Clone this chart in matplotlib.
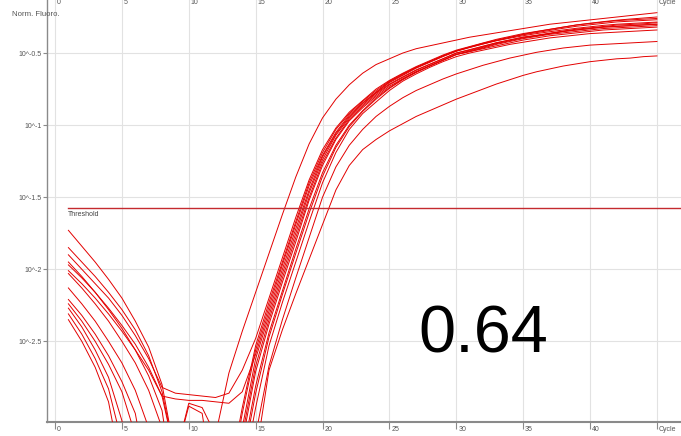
import numpy as np
import matplotlib
matplotlib.use("Agg")
import matplotlib.pyplot as plt
from matplotlib import transforms
from matplotlib.ticker import NullLocator

plt.rcParams["font.family"] = ["Liberation Sans", "DejaVu Sans"]

# Cycle numbers shared by every well
cycles = np.arange(1, 46)

# log10 of normalised fluorescence per cycle, one list per well (-4.0 = below the plotted range)
well_01 = [-1.73, -1.84, -1.95, -2.07, -2.20, -2.36, -2.54, -2.80, -3.30, -2.93, -2.96, -3.15, -2.72, -2.43, -2.16,
           -1.89, -1.62, -1.36, -1.13, -0.95, -0.82, -0.72, -0.64, -0.58, -0.54, -0.50, -0.47, -0.45, -0.43, -0.41,
           -0.39, -0.375, -0.36, -0.345, -0.33, -0.315, -0.30, -0.29, -0.28, -0.27, -0.26, -0.25, -0.24, -0.23, -0.22]
well_02 = [-1.90, -2.00, -2.10, -2.20, -2.32, -2.46, -2.62, -2.82, -2.86, -2.87, -2.88, -2.89, -2.86, -2.70, -2.48,
           -2.20, -1.92, -1.64, -1.38, -1.17, -1.02, -0.91, -0.83, -0.75, -0.69, -0.64, -0.594, -0.554, -0.514, -0.48,
           -0.455, -0.43, -0.405, -0.385, -0.365, -0.35, -0.335, -0.32, -0.305, -0.295, -0.285, -0.275, -0.27, -0.265, -0.26]
well_03 = [-2.01, -2.10, -2.20, -2.31, -2.43, -2.56, -2.70, -2.88, -2.90, -2.91, -2.91, -2.92, -2.93, -2.85, -2.59,
           -2.29, -2.00, -1.72, -1.45, -1.22, -1.06, -0.94, -0.85, -0.775, -0.705, -0.655, -0.605, -0.565, -0.525, -0.488,
           -0.462, -0.437, -0.413, -0.393, -0.373, -0.358, -0.343, -0.328, -0.314, -0.304, -0.294, -0.284, -0.279, -0.274, -0.269]
well_04 = [-1.85, -1.95, -2.05, -2.16, -2.28, -2.42, -2.60, -2.85, -3.30, -2.95, -3.00, -3.60, -3.70, -3.35, -2.86,
           -2.47, -2.175, -1.89, -1.61, -1.355, -1.155, -1.01, -0.905, -0.82, -0.745, -0.685, -0.635, -0.59, -0.55, -0.51,
           -0.485, -0.46, -0.435, -0.415, -0.395, -0.38, -0.365, -0.35, -0.34, -0.33, -0.32, -0.315, -0.31, -0.305, -0.30]
well_05 = [-1.95, -2.05, -2.16, -2.28, -2.41, -2.56, -2.74, -2.98, -3.60, -4.0, -4.0, -4.0, -3.45, -2.96, -2.53,
           -2.23, -1.95, -1.67, -1.40, -1.19, -1.03, -0.92, -0.835, -0.76, -0.695, -0.645, -0.60, -0.56, -0.52, -0.485,
           -0.458, -0.432, -0.41, -0.39, -0.37, -0.352, -0.336, -0.32, -0.305, -0.293, -0.282, -0.272, -0.264, -0.257, -0.25]
well_06 = [-1.97, -2.06, -2.16, -2.27, -2.39, -2.52, -2.68, -2.88, -3.30, -4.0, -4.0, -4.0, -3.50, -3.00, -2.56,
           -2.26, -1.97, -1.69, -1.42, -1.21, -1.05, -0.93, -0.845, -0.77, -0.70, -0.65, -0.60, -0.56, -0.52, -0.485,
           -0.46, -0.437, -0.415, -0.397, -0.38, -0.365, -0.352, -0.34, -0.328, -0.318, -0.308, -0.30, -0.295, -0.29, -0.285]
well_07 = [-2.03, -2.13, -2.24, -2.36, -2.50, -2.65, -2.84, -3.10, -4.0, -4.0, -4.0, -4.0, -3.60, -3.10, -2.62,
           -2.32, -2.03, -1.75, -1.47, -1.24, -1.07, -0.95, -0.86, -0.78, -0.715, -0.665, -0.617, -0.578, -0.54, -0.50,
           -0.476, -0.452, -0.428, -0.409, -0.39, -0.376, -0.362, -0.348, -0.334, -0.325, -0.316, -0.306, -0.302, -0.297, -0.29]
well_08 = [-2.13, -2.24, -2.36, -2.50, -2.65, -2.84, -3.10, -4.0, -4.0, -4.0, -4.0, -4.0, -3.65, -3.15, -2.67,
           -2.35, -2.06, -1.78, -1.50, -1.26, -1.09, -0.96, -0.87, -0.79, -0.72, -0.67, -0.62, -0.58, -0.54, -0.50,
           -0.48, -0.455, -0.43, -0.41, -0.39, -0.38, -0.365, -0.35, -0.34, -0.33, -0.32, -0.315, -0.31, -0.305, -0.30]
well_09 = [-2.21, -2.32, -2.45, -2.60, -2.78, -3.00, -3.50, -4.0, -4.0, -4.0, -4.0, -4.0, -3.70, -3.20, -2.71,
           -2.38, -2.09, -1.81, -1.52, -1.28, -1.10, -0.97, -0.88, -0.80, -0.73, -0.68, -0.63, -0.59, -0.55, -0.51,
           -0.49, -0.465, -0.44, -0.42, -0.40, -0.385, -0.37, -0.36, -0.35, -0.34, -0.33, -0.325, -0.32, -0.315, -0.31]
well_10 = [-2.24, -2.36, -2.50, -2.66, -2.85, -3.15, -4.0, -4.0, -4.0, -4.0, -4.0, -4.0, -4.0, -3.30, -2.81,
           -2.44, -2.15, -1.86, -1.58, -1.33, -1.14, -1.00, -0.90, -0.81, -0.74, -0.68, -0.63, -0.59, -0.55, -0.51,
           -0.49, -0.47, -0.45, -0.43, -0.41, -0.395, -0.38, -0.37, -0.36, -0.35, -0.34, -0.335, -0.33, -0.325, -0.32]
well_11 = [-2.27, -2.40, -2.56, -2.75, -3.05, -3.60, -4.0, -4.0, -4.0, -4.0, -4.0, -4.0, -4.0, -3.45, -2.96,
           -2.53, -2.23, -1.95, -1.67, -1.40, -1.19, -1.03, -0.92, -0.84, -0.76, -0.695, -0.645, -0.60, -0.56, -0.525,
           -0.50, -0.48, -0.46, -0.44, -0.425, -0.41, -0.395, -0.385, -0.375, -0.365, -0.36, -0.355, -0.35, -0.345, -0.34]
well_12 = [-2.31, -2.45, -2.62, -2.83, -3.20, -4.0, -4.0, -4.0, -4.0, -4.0, -4.0, -4.0, -4.0, -4.0, -3.15,
           -2.67, -2.35, -2.06, -1.78, -1.50, -1.29, -1.14, -1.03, -0.94, -0.87, -0.81, -0.76, -0.72, -0.68, -0.645,
           -0.615, -0.585, -0.56, -0.535, -0.515, -0.495, -0.48, -0.465, -0.455, -0.445, -0.44, -0.435, -0.43, -0.425, -0.42]
well_13 = [-2.35, -2.50, -2.68, -2.92, -3.40, -4.0, -4.0, -4.0, -4.0, -4.0, -4.0, -4.0, -4.0, -4.0, -3.30,
           -2.70, -2.42, -2.17, -1.93, -1.69, -1.45, -1.28, -1.17, -1.10, -1.04, -0.99, -0.94, -0.90, -0.86, -0.82,
           -0.785, -0.75, -0.715, -0.685, -0.655, -0.63, -0.61, -0.59, -0.575, -0.56, -0.55, -0.54, -0.535, -0.525, -0.52]

wells = [well_01, well_02, well_03, well_04, well_05, well_06, well_07,
         well_08, well_09, well_10, well_11, well_12, well_13]

threshold_log = -1.576
x_ticks = [0, 5, 10, 15, 20, 25, 30, 35, 40, 45]
x_tick_labels = ["0", "5", "10", "15", "20", "25", "30", "35", "40", "Cycle"]
y_ticks_log = [-0.5, -1.0, -1.5, -2.0, -2.5]
y_tick_labels = ["10^-0.5", "10^-1", "10^-1.5", "10^-2", "10^-2.5"]
score_text = "0.64"

W, H = 681, 436
fig = plt.figure(figsize=(W / 100, H / 100), dpi=100)
ax = fig.add_axes([47 / W, 14 / H, (W - 47) / W, (H - 14) / H])
ax.set_yscale("log")
ax.set_xlim(-0.6, 46.8)
ax.set_ylim(10 ** -3.06, 10 ** -0.132)

grid_c = "#e2e2e2"
axis_c = "#8a8a8a"
text_c = "#555555"

for xv in x_ticks:
    ax.axvline(xv, color=grid_c, lw=0.8, zorder=0)
for yv in y_ticks_log:
    ax.axhline(10 ** yv, color=grid_c, lw=0.8, zorder=0)

for w in wells:
    ax.plot(cycles, 10 ** np.array(w), color="#e30000", lw=0.7, zorder=3)

thr = 10 ** threshold_log
ax.plot([cycles[0], 46.8], [thr, thr], color="#c42a2f", lw=1.0, zorder=4)
ax.text(cycles[0], thr, "Threshold", fontsize=5, color="#444444", va="top", ha="left",
        transform=transforms.offset_copy(ax.transData, fig=fig, x=0, y=-3, units="dots"))

# axes frame
for s in ["top", "right"]:
    ax.spines[s].set_visible(False)
ax.spines["left"].set_color(axis_c)
ax.spines["left"].set_linewidth(1.0)
ax.spines["bottom"].set_color(axis_c)
ax.spines["bottom"].set_linewidth(1.5)

ax.yaxis.set_minor_locator(NullLocator())
ax.set_yticks([10 ** v for v in y_ticks_log])
ax.set_yticklabels(y_tick_labels, fontsize=5, color=text_c)
ax.tick_params(axis="y", direction="out", length=3, width=0.8, color=axis_c, pad=1)

ax.set_xticks(x_ticks)
ax.set_xticklabels([])
ax.tick_params(axis="x", direction="out", length=5, width=0.8, color=axis_c)

bottom_tr = transforms.offset_copy(ax.get_xaxis_transform(), fig=fig, x=2, y=-7, units="dots")
top_tr = transforms.offset_copy(ax.get_xaxis_transform(), fig=fig, x=2, y=-2, units="dots")
for xv, lab in zip(x_ticks, x_tick_labels):
    ax.text(xv, 0, lab, transform=bottom_tr, fontsize=5, color=text_c, ha="left", va="center", clip_on=False)
    ax.text(xv, 1, lab, transform=top_tr, fontsize=5, color=text_c, ha="left", va="center", clip_on=False)

fig.text(12 / W, 1 - 15 / H, "Norm. Fluoro.", fontsize=5.6, color=text_c, ha="left", va="center")

fig.text(483 / W, 1 - 352 / H, score_text, fontsize=48, color="black", ha="center", va="baseline")

fig.savefig("out.png", dpi=100)
